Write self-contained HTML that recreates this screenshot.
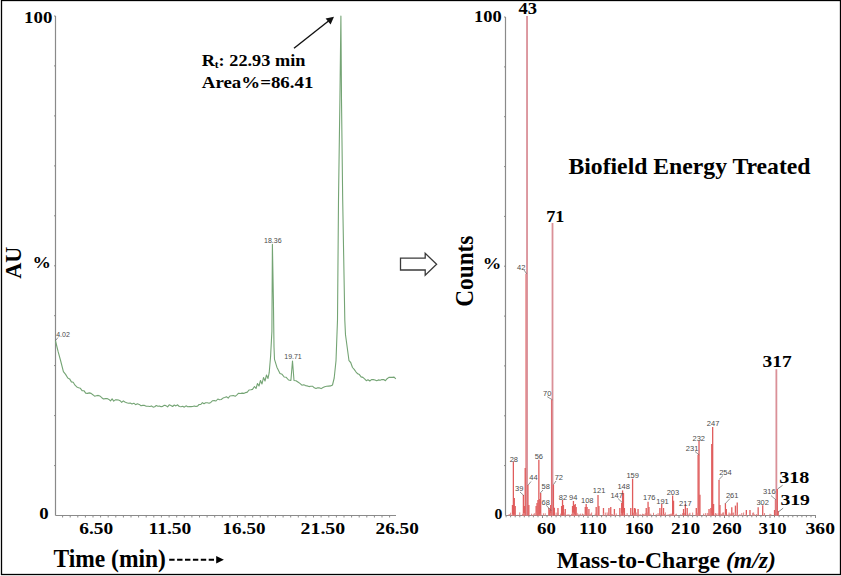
<!DOCTYPE html>
<html><head><meta charset="utf-8"><style>
html,body{margin:0;padding:0;background:#fff;width:841px;height:576px;overflow:hidden}
svg{display:block}
</style></head><body><svg width="841" height="576" viewBox="0 0 841 576"><rect x="1.5" y="0.5" width="839" height="574" fill="none" stroke="#000" stroke-width="1.3"/>
<line x1="55.5" y1="16" x2="55.5" y2="515.5" stroke="#8a8a8a" stroke-width="1.2"/>
<line x1="55.5" y1="515.5" x2="396" y2="515.5" stroke="#8a8a8a" stroke-width="1.2"/>
<line x1="54.0" y1="16" x2="55.5" y2="16" stroke="#8a8a8a" stroke-width="1"/>
<line x1="54.0" y1="465.6" x2="55.5" y2="465.6" stroke="#8a8a8a" stroke-width="1"/>
<line x1="54.0" y1="415.6" x2="55.5" y2="415.6" stroke="#8a8a8a" stroke-width="1"/>
<line x1="54.0" y1="365.6" x2="55.5" y2="365.6" stroke="#8a8a8a" stroke-width="1"/>
<line x1="54.0" y1="315.7" x2="55.5" y2="315.7" stroke="#8a8a8a" stroke-width="1"/>
<line x1="54.0" y1="265.8" x2="55.5" y2="265.8" stroke="#8a8a8a" stroke-width="1"/>
<line x1="54.0" y1="215.8" x2="55.5" y2="215.8" stroke="#8a8a8a" stroke-width="1"/>
<line x1="54.0" y1="165.9" x2="55.5" y2="165.9" stroke="#8a8a8a" stroke-width="1"/>
<line x1="54.0" y1="115.9" x2="55.5" y2="115.9" stroke="#8a8a8a" stroke-width="1"/>
<line x1="54.0" y1="65.9" x2="55.5" y2="65.9" stroke="#8a8a8a" stroke-width="1"/>
<line x1="62.6" y1="515.5" x2="62.6" y2="517.5" stroke="#8a8a8a" stroke-width="1"/>
<line x1="70.2" y1="515.5" x2="70.2" y2="517.5" stroke="#8a8a8a" stroke-width="1"/>
<line x1="77.8" y1="515.5" x2="77.8" y2="517.5" stroke="#8a8a8a" stroke-width="1"/>
<line x1="85.4" y1="515.5" x2="85.4" y2="517.5" stroke="#8a8a8a" stroke-width="1"/>
<line x1="93.0" y1="515.5" x2="93.0" y2="517.5" stroke="#8a8a8a" stroke-width="1"/>
<line x1="100.6" y1="515.5" x2="100.6" y2="517.5" stroke="#8a8a8a" stroke-width="1"/>
<line x1="108.2" y1="515.5" x2="108.2" y2="517.5" stroke="#8a8a8a" stroke-width="1"/>
<line x1="115.8" y1="515.5" x2="115.8" y2="517.5" stroke="#8a8a8a" stroke-width="1"/>
<line x1="123.4" y1="515.5" x2="123.4" y2="517.5" stroke="#8a8a8a" stroke-width="1"/>
<line x1="131.0" y1="515.5" x2="131.0" y2="517.5" stroke="#8a8a8a" stroke-width="1"/>
<line x1="138.6" y1="515.5" x2="138.6" y2="517.5" stroke="#8a8a8a" stroke-width="1"/>
<line x1="146.2" y1="515.5" x2="146.2" y2="517.5" stroke="#8a8a8a" stroke-width="1"/>
<line x1="153.8" y1="515.5" x2="153.8" y2="517.5" stroke="#8a8a8a" stroke-width="1"/>
<line x1="161.4" y1="515.5" x2="161.4" y2="517.5" stroke="#8a8a8a" stroke-width="1"/>
<line x1="169.1" y1="515.5" x2="169.1" y2="517.5" stroke="#8a8a8a" stroke-width="1"/>
<line x1="176.7" y1="515.5" x2="176.7" y2="517.5" stroke="#8a8a8a" stroke-width="1"/>
<line x1="184.3" y1="515.5" x2="184.3" y2="517.5" stroke="#8a8a8a" stroke-width="1"/>
<line x1="191.9" y1="515.5" x2="191.9" y2="517.5" stroke="#8a8a8a" stroke-width="1"/>
<line x1="199.5" y1="515.5" x2="199.5" y2="517.5" stroke="#8a8a8a" stroke-width="1"/>
<line x1="207.1" y1="515.5" x2="207.1" y2="517.5" stroke="#8a8a8a" stroke-width="1"/>
<line x1="214.7" y1="515.5" x2="214.7" y2="517.5" stroke="#8a8a8a" stroke-width="1"/>
<line x1="222.3" y1="515.5" x2="222.3" y2="517.5" stroke="#8a8a8a" stroke-width="1"/>
<line x1="229.9" y1="515.5" x2="229.9" y2="517.5" stroke="#8a8a8a" stroke-width="1"/>
<line x1="237.5" y1="515.5" x2="237.5" y2="517.5" stroke="#8a8a8a" stroke-width="1"/>
<line x1="245.1" y1="515.5" x2="245.1" y2="517.5" stroke="#8a8a8a" stroke-width="1"/>
<line x1="252.7" y1="515.5" x2="252.7" y2="517.5" stroke="#8a8a8a" stroke-width="1"/>
<line x1="260.3" y1="515.5" x2="260.3" y2="517.5" stroke="#8a8a8a" stroke-width="1"/>
<line x1="267.9" y1="515.5" x2="267.9" y2="517.5" stroke="#8a8a8a" stroke-width="1"/>
<line x1="275.5" y1="515.5" x2="275.5" y2="517.5" stroke="#8a8a8a" stroke-width="1"/>
<line x1="283.1" y1="515.5" x2="283.1" y2="517.5" stroke="#8a8a8a" stroke-width="1"/>
<line x1="290.7" y1="515.5" x2="290.7" y2="517.5" stroke="#8a8a8a" stroke-width="1"/>
<line x1="298.3" y1="515.5" x2="298.3" y2="517.5" stroke="#8a8a8a" stroke-width="1"/>
<line x1="305.9" y1="515.5" x2="305.9" y2="517.5" stroke="#8a8a8a" stroke-width="1"/>
<line x1="313.5" y1="515.5" x2="313.5" y2="517.5" stroke="#8a8a8a" stroke-width="1"/>
<line x1="321.1" y1="515.5" x2="321.1" y2="517.5" stroke="#8a8a8a" stroke-width="1"/>
<line x1="328.8" y1="515.5" x2="328.8" y2="517.5" stroke="#8a8a8a" stroke-width="1"/>
<line x1="336.4" y1="515.5" x2="336.4" y2="517.5" stroke="#8a8a8a" stroke-width="1"/>
<line x1="344.0" y1="515.5" x2="344.0" y2="517.5" stroke="#8a8a8a" stroke-width="1"/>
<line x1="351.6" y1="515.5" x2="351.6" y2="517.5" stroke="#8a8a8a" stroke-width="1"/>
<line x1="359.2" y1="515.5" x2="359.2" y2="517.5" stroke="#8a8a8a" stroke-width="1"/>
<line x1="366.8" y1="515.5" x2="366.8" y2="517.5" stroke="#8a8a8a" stroke-width="1"/>
<line x1="374.4" y1="515.5" x2="374.4" y2="517.5" stroke="#8a8a8a" stroke-width="1"/>
<line x1="382.0" y1="515.5" x2="382.0" y2="517.5" stroke="#8a8a8a" stroke-width="1"/>
<line x1="389.6" y1="515.5" x2="389.6" y2="517.5" stroke="#8a8a8a" stroke-width="1"/>
<line x1="169.2" y1="559.7" x2="214" y2="559.7" stroke="#000" stroke-width="2" stroke-dasharray="5.4,2.5"/>
<path d="M216.2 555.9 L223.9 559.7 L216.2 563.4 Z" fill="#000"/>
<path d="M55.4,340.5 L58.0,351.2 L60.7,361.0 L63.4,371.7 L65.6,374.4 L67.8,378.0 L69.6,378.9 L71.4,381.9 L73.2,382.3 L75.0,385.2 L76.8,386.9 L78.6,387.8 L80.4,388.3 L82.1,390.6 L83.9,390.7 L85.7,393.1 L87.5,393.4 L89.3,392.9 L91.1,393.4 L92.8,394.7 L94.6,396.2 L96.4,395.8 L98.2,395.4 L100.0,396.1 L101.8,397.7 L103.5,399.0 L105.3,398.6 L107.1,398.6 L108.9,399.4 L110.5,400.9 L112.1,398.8 L113.7,401.1 L115.3,399.9 L116.9,399.8 L118.5,400.0 L120.1,400.7 L121.7,402.3 L123.3,400.9 L124.9,402.0 L126.7,402.7 L128.5,403.2 L130.2,403.0 L132.0,403.9 L133.8,403.2 L135.6,404.7 L137.4,403.8 L139.2,404.4 L141.0,405.8 L142.8,405.4 L144.5,405.4 L146.3,406.3 L148.1,406.2 L149.9,406.5 L151.5,405.9 L153.1,407.1 L154.7,406.7 L156.3,405.5 L157.9,406.2 L159.5,406.0 L161.1,406.8 L162.7,406.4 L164.3,405.2 L165.9,405.6 L167.6,406.9 L169.2,404.8 L170.9,405.6 L172.6,406.5 L174.3,405.0 L175.9,405.9 L177.6,404.8 L179.3,406.5 L181.0,406.8 L182.7,406.3 L184.3,407.2 L186.0,405.8 L187.7,406.8 L189.3,406.6 L191.0,406.6 L192.7,406.5 L194.3,405.9 L195.9,406.4 L197.5,406.2 L199.1,404.5 L200.8,404.5 L202.4,402.6 L204.0,403.7 L205.6,402.7 L207.3,402.7 L209.1,403.2 L210.8,402.4 L212.6,400.7 L214.3,400.6 L216.0,401.0 L217.8,399.0 L219.5,399.8 L221.2,399.5 L223.0,398.1 L224.7,397.5 L226.5,396.8 L228.2,398.1 L229.9,396.0 L231.7,395.7 L233.4,395.6 L235.2,396.3 L236.9,394.8 L238.6,393.2 L240.4,393.5 L242.1,393.1 L243.8,393.4 L245.6,392.6 L247.3,392.1 L249.0,390.0 L250.8,389.8 L252.5,389.4 L254.5,386.5 L256.0,388.5 L257.5,383.5 L259.0,386.0 L260.5,380.5 L262.0,384.0 L263.5,377.5 L265.0,381.0 L266.5,375.0 L268.0,378.5 L269.2,372.7 L270.6,356.2 L271.9,331.2 L272.4,244.3 L273.4,300.0 L274.0,346.9 L274.5,359.4 L276.9,367.2 L280.0,373.4 L282.1,374.3 L284.2,377.0 L286.2,377.3 L288.6,380.0 L290.9,380.5 L292.5,361.0 L294.0,380.5 L296.0,380.8 L297.9,382.0 L299.9,383.4 L301.9,385.2 L303.7,384.8 L305.5,385.6 L307.3,385.9 L309.0,386.6 L310.8,386.3 L312.5,386.2 L314.3,387.8 L316.0,388.5 L317.7,387.8 L319.5,387.9 L321.2,388.6 L323.0,387.5 L324.7,386.7 L326.6,386.3 L328.6,386.1 L330.6,385.9 L332.5,385.0 L334.2,378.0 L336.0,360.7 L337.5,320.0 L338.5,200.0 L339.9,100.0 L340.9,16.0 L341.5,100.0 L342.7,200.0 L344.8,320.0 L345.5,334.7 L349.0,360.7 L350.7,362.5 L352.5,367.5 L354.2,369.4 L355.9,371.8 L357.7,373.8 L359.4,374.6 L361.1,376.9 L362.9,377.4 L364.6,378.9 L366.3,380.7 L368.0,379.7 L369.8,381.0 L371.5,379.6 L373.2,379.6 L375.0,380.0 L376.7,380.7 L378.4,379.9 L380.2,380.3 L381.9,379.6 L383.7,379.5 L385.4,380.7 L387.1,378.7 L388.9,377.4 L390.6,377.2 L392.3,377.4 L394.1,377.1 L395.8,378.9" fill="none" stroke="#74a474" stroke-width="1.1" stroke-linejoin="round"/>
<text x="56.2" y="337" style="font-family:'Liberation Sans',sans-serif;font-size:7px;fill:#4a4a4a">4.02</text>
<line x1="55.6" y1="340.5" x2="58" y2="337.5" stroke="#4a4a4a" stroke-width="0.6"/>
<text x="272.8" y="242.5" text-anchor="middle" style="font-family:'Liberation Sans',sans-serif;font-size:7px;fill:#4a4a4a">18.36</text>
<text x="293" y="359.4" text-anchor="middle" style="font-family:'Liberation Sans',sans-serif;font-size:7px;fill:#4a4a4a">19.71</text>
<line x1="294" y1="48.3" x2="328.5" y2="21" stroke="#111" stroke-width="1.4"/>
<path d="M334 16.8 L325.6 18.6 L330.6 24.4 Z" fill="#111"/>
<path d="M400.5 258.1 L425.2 258.1 L425.2 253.3 L436.6 264.3 L425.2 275.2 L425.2 270 L400.5 270 Z" fill="#fff" stroke="#3a3a3a" stroke-width="1.3" stroke-linejoin="miter"/>
<line x1="505.5" y1="17" x2="505.5" y2="515.5" stroke="#8a8a8a" stroke-width="1.2"/>
<line x1="505.5" y1="515.5" x2="816" y2="515.5" stroke="#8a8a8a" stroke-width="1.2"/>
<line x1="504.0" y1="17" x2="505.5" y2="17" stroke="#8a8a8a" stroke-width="1"/>
<line x1="504.0" y1="465.6" x2="505.5" y2="465.6" stroke="#8a8a8a" stroke-width="1"/>
<line x1="504.0" y1="415.8" x2="505.5" y2="415.8" stroke="#8a8a8a" stroke-width="1"/>
<line x1="504.0" y1="365.9" x2="505.5" y2="365.9" stroke="#8a8a8a" stroke-width="1"/>
<line x1="504.0" y1="316.1" x2="505.5" y2="316.1" stroke="#8a8a8a" stroke-width="1"/>
<line x1="504.0" y1="266.2" x2="505.5" y2="266.2" stroke="#8a8a8a" stroke-width="1"/>
<line x1="504.0" y1="216.4" x2="505.5" y2="216.4" stroke="#8a8a8a" stroke-width="1"/>
<line x1="504.0" y1="166.6" x2="505.5" y2="166.6" stroke="#8a8a8a" stroke-width="1"/>
<line x1="504.0" y1="116.7" x2="505.5" y2="116.7" stroke="#8a8a8a" stroke-width="1"/>
<line x1="504.0" y1="66.9" x2="505.5" y2="66.9" stroke="#8a8a8a" stroke-width="1"/>
<line x1="506.1" y1="515.5" x2="506.1" y2="517.3" stroke="#8a8a8a" stroke-width="1"/>
<line x1="510.6" y1="515.5" x2="510.6" y2="517.3" stroke="#8a8a8a" stroke-width="1"/>
<line x1="515.2" y1="515.5" x2="515.2" y2="517.3" stroke="#8a8a8a" stroke-width="1"/>
<line x1="519.8" y1="515.5" x2="519.8" y2="517.3" stroke="#8a8a8a" stroke-width="1"/>
<line x1="524.3" y1="515.5" x2="524.3" y2="517.3" stroke="#8a8a8a" stroke-width="1"/>
<line x1="528.9" y1="515.5" x2="528.9" y2="517.3" stroke="#8a8a8a" stroke-width="1"/>
<line x1="533.4" y1="515.5" x2="533.4" y2="517.3" stroke="#8a8a8a" stroke-width="1"/>
<line x1="538.0" y1="515.5" x2="538.0" y2="517.3" stroke="#8a8a8a" stroke-width="1"/>
<line x1="542.5" y1="515.5" x2="542.5" y2="518.0" stroke="#8a8a8a" stroke-width="1"/>
<line x1="547.0" y1="515.5" x2="547.0" y2="517.3" stroke="#8a8a8a" stroke-width="1"/>
<line x1="551.6" y1="515.5" x2="551.6" y2="517.3" stroke="#8a8a8a" stroke-width="1"/>
<line x1="556.1" y1="515.5" x2="556.1" y2="517.3" stroke="#8a8a8a" stroke-width="1"/>
<line x1="560.7" y1="515.5" x2="560.7" y2="517.3" stroke="#8a8a8a" stroke-width="1"/>
<line x1="565.2" y1="515.5" x2="565.2" y2="517.3" stroke="#8a8a8a" stroke-width="1"/>
<line x1="569.8" y1="515.5" x2="569.8" y2="517.3" stroke="#8a8a8a" stroke-width="1"/>
<line x1="574.4" y1="515.5" x2="574.4" y2="517.3" stroke="#8a8a8a" stroke-width="1"/>
<line x1="578.9" y1="515.5" x2="578.9" y2="517.3" stroke="#8a8a8a" stroke-width="1"/>
<line x1="583.5" y1="515.5" x2="583.5" y2="517.3" stroke="#8a8a8a" stroke-width="1"/>
<line x1="588.0" y1="515.5" x2="588.0" y2="518.0" stroke="#8a8a8a" stroke-width="1"/>
<line x1="592.5" y1="515.5" x2="592.5" y2="517.3" stroke="#8a8a8a" stroke-width="1"/>
<line x1="597.1" y1="515.5" x2="597.1" y2="517.3" stroke="#8a8a8a" stroke-width="1"/>
<line x1="601.6" y1="515.5" x2="601.6" y2="517.3" stroke="#8a8a8a" stroke-width="1"/>
<line x1="606.2" y1="515.5" x2="606.2" y2="517.3" stroke="#8a8a8a" stroke-width="1"/>
<line x1="610.8" y1="515.5" x2="610.8" y2="517.3" stroke="#8a8a8a" stroke-width="1"/>
<line x1="615.3" y1="515.5" x2="615.3" y2="517.3" stroke="#8a8a8a" stroke-width="1"/>
<line x1="619.9" y1="515.5" x2="619.9" y2="517.3" stroke="#8a8a8a" stroke-width="1"/>
<line x1="624.4" y1="515.5" x2="624.4" y2="517.3" stroke="#8a8a8a" stroke-width="1"/>
<line x1="629.0" y1="515.5" x2="629.0" y2="517.3" stroke="#8a8a8a" stroke-width="1"/>
<line x1="633.5" y1="515.5" x2="633.5" y2="518.0" stroke="#8a8a8a" stroke-width="1"/>
<line x1="638.0" y1="515.5" x2="638.0" y2="517.3" stroke="#8a8a8a" stroke-width="1"/>
<line x1="642.6" y1="515.5" x2="642.6" y2="517.3" stroke="#8a8a8a" stroke-width="1"/>
<line x1="647.1" y1="515.5" x2="647.1" y2="517.3" stroke="#8a8a8a" stroke-width="1"/>
<line x1="651.7" y1="515.5" x2="651.7" y2="517.3" stroke="#8a8a8a" stroke-width="1"/>
<line x1="656.2" y1="515.5" x2="656.2" y2="517.3" stroke="#8a8a8a" stroke-width="1"/>
<line x1="660.8" y1="515.5" x2="660.8" y2="517.3" stroke="#8a8a8a" stroke-width="1"/>
<line x1="665.4" y1="515.5" x2="665.4" y2="517.3" stroke="#8a8a8a" stroke-width="1"/>
<line x1="669.9" y1="515.5" x2="669.9" y2="517.3" stroke="#8a8a8a" stroke-width="1"/>
<line x1="674.5" y1="515.5" x2="674.5" y2="517.3" stroke="#8a8a8a" stroke-width="1"/>
<line x1="679.0" y1="515.5" x2="679.0" y2="518.0" stroke="#8a8a8a" stroke-width="1"/>
<line x1="683.5" y1="515.5" x2="683.5" y2="517.3" stroke="#8a8a8a" stroke-width="1"/>
<line x1="688.1" y1="515.5" x2="688.1" y2="517.3" stroke="#8a8a8a" stroke-width="1"/>
<line x1="692.6" y1="515.5" x2="692.6" y2="517.3" stroke="#8a8a8a" stroke-width="1"/>
<line x1="697.2" y1="515.5" x2="697.2" y2="517.3" stroke="#8a8a8a" stroke-width="1"/>
<line x1="701.8" y1="515.5" x2="701.8" y2="517.3" stroke="#8a8a8a" stroke-width="1"/>
<line x1="706.3" y1="515.5" x2="706.3" y2="517.3" stroke="#8a8a8a" stroke-width="1"/>
<line x1="710.9" y1="515.5" x2="710.9" y2="517.3" stroke="#8a8a8a" stroke-width="1"/>
<line x1="715.4" y1="515.5" x2="715.4" y2="517.3" stroke="#8a8a8a" stroke-width="1"/>
<line x1="720.0" y1="515.5" x2="720.0" y2="517.3" stroke="#8a8a8a" stroke-width="1"/>
<line x1="724.5" y1="515.5" x2="724.5" y2="518.0" stroke="#8a8a8a" stroke-width="1"/>
<line x1="729.0" y1="515.5" x2="729.0" y2="517.3" stroke="#8a8a8a" stroke-width="1"/>
<line x1="733.6" y1="515.5" x2="733.6" y2="517.3" stroke="#8a8a8a" stroke-width="1"/>
<line x1="738.1" y1="515.5" x2="738.1" y2="517.3" stroke="#8a8a8a" stroke-width="1"/>
<line x1="742.7" y1="515.5" x2="742.7" y2="517.3" stroke="#8a8a8a" stroke-width="1"/>
<line x1="747.2" y1="515.5" x2="747.2" y2="517.3" stroke="#8a8a8a" stroke-width="1"/>
<line x1="751.8" y1="515.5" x2="751.8" y2="517.3" stroke="#8a8a8a" stroke-width="1"/>
<line x1="756.4" y1="515.5" x2="756.4" y2="517.3" stroke="#8a8a8a" stroke-width="1"/>
<line x1="760.9" y1="515.5" x2="760.9" y2="517.3" stroke="#8a8a8a" stroke-width="1"/>
<line x1="765.5" y1="515.5" x2="765.5" y2="517.3" stroke="#8a8a8a" stroke-width="1"/>
<line x1="770.0" y1="515.5" x2="770.0" y2="518.0" stroke="#8a8a8a" stroke-width="1"/>
<line x1="774.5" y1="515.5" x2="774.5" y2="517.3" stroke="#8a8a8a" stroke-width="1"/>
<line x1="779.1" y1="515.5" x2="779.1" y2="517.3" stroke="#8a8a8a" stroke-width="1"/>
<line x1="783.6" y1="515.5" x2="783.6" y2="517.3" stroke="#8a8a8a" stroke-width="1"/>
<line x1="788.2" y1="515.5" x2="788.2" y2="517.3" stroke="#8a8a8a" stroke-width="1"/>
<line x1="792.8" y1="515.5" x2="792.8" y2="517.3" stroke="#8a8a8a" stroke-width="1"/>
<line x1="797.3" y1="515.5" x2="797.3" y2="517.3" stroke="#8a8a8a" stroke-width="1"/>
<line x1="801.9" y1="515.5" x2="801.9" y2="517.3" stroke="#8a8a8a" stroke-width="1"/>
<line x1="806.4" y1="515.5" x2="806.4" y2="517.3" stroke="#8a8a8a" stroke-width="1"/>
<line x1="811.0" y1="515.5" x2="811.0" y2="517.3" stroke="#8a8a8a" stroke-width="1"/>
<line x1="815.5" y1="515.5" x2="815.5" y2="518.0" stroke="#8a8a8a" stroke-width="1"/>
<line x1="512.47" y1="505" x2="512.47" y2="515.5" stroke="#e05c5c" stroke-width="1.3"/>
<line x1="513.38" y1="461.5" x2="513.38" y2="515.5" stroke="#e05c5c" stroke-width="1.3"/>
<line x1="514.29" y1="498" x2="514.29" y2="515.5" stroke="#e05c5c" stroke-width="1.3"/>
<line x1="515.20" y1="506" x2="515.20" y2="515.5" stroke="#e05c5c" stroke-width="1.3"/>
<line x1="523.39" y1="495" x2="523.39" y2="515.5" stroke="#e05c5c" stroke-width="1.3"/>
<line x1="524.30" y1="506" x2="524.30" y2="515.5" stroke="#e05c5c" stroke-width="1.3"/>
<line x1="525.21" y1="468" x2="525.21" y2="515.5" stroke="#e05c5c" stroke-width="1.3"/>
<line x1="526.12" y1="273.8" x2="526.12" y2="515.5" stroke="#e05c5c" stroke-width="1.3"/>
<line x1="527.03" y1="16" x2="527.03" y2="515.5" stroke="#da9098" stroke-width="1.8"/>
<line x1="527.94" y1="485" x2="527.94" y2="515.5" stroke="#e05c5c" stroke-width="1.3"/>
<line x1="528.85" y1="505" x2="528.85" y2="515.5" stroke="#e05c5c" stroke-width="1.3"/>
<line x1="536.13" y1="506" x2="536.13" y2="515.5" stroke="#e05c5c" stroke-width="1.3"/>
<line x1="537.04" y1="503" x2="537.04" y2="515.5" stroke="#e05c5c" stroke-width="1.3"/>
<line x1="537.95" y1="500" x2="537.95" y2="515.5" stroke="#e05c5c" stroke-width="1.3"/>
<line x1="538.86" y1="459.7" x2="538.86" y2="515.5" stroke="#e05c5c" stroke-width="1.3"/>
<line x1="539.77" y1="499" x2="539.77" y2="515.5" stroke="#e05c5c" stroke-width="1.3"/>
<line x1="540.68" y1="493" x2="540.68" y2="515.5" stroke="#e05c5c" stroke-width="1.3"/>
<line x1="548.87" y1="508" x2="548.87" y2="515.5" stroke="#e05c5c" stroke-width="1.3"/>
<line x1="549.78" y1="510" x2="549.78" y2="515.5" stroke="#e05c5c" stroke-width="1.3"/>
<line x1="550.69" y1="505" x2="550.69" y2="515.5" stroke="#e05c5c" stroke-width="1.3"/>
<line x1="551.60" y1="399.8" x2="551.60" y2="515.5" stroke="#e05c5c" stroke-width="1.3"/>
<line x1="552.51" y1="223" x2="552.51" y2="515.5" stroke="#da9098" stroke-width="1.8"/>
<line x1="553.42" y1="484.6" x2="553.42" y2="515.5" stroke="#e05c5c" stroke-width="1.3"/>
<line x1="554.33" y1="507.7" x2="554.33" y2="515.5" stroke="#e05c5c" stroke-width="1.3"/>
<line x1="557.97" y1="508" x2="557.97" y2="515.5" stroke="#e05c5c" stroke-width="1.3"/>
<line x1="561.61" y1="506" x2="561.61" y2="515.5" stroke="#e05c5c" stroke-width="1.3"/>
<line x1="562.52" y1="500" x2="562.52" y2="515.5" stroke="#e05c5c" stroke-width="1.3"/>
<line x1="563.43" y1="505" x2="563.43" y2="515.5" stroke="#e05c5c" stroke-width="1.3"/>
<line x1="565.25" y1="509" x2="565.25" y2="515.5" stroke="#e05c5c" stroke-width="1.3"/>
<line x1="572.53" y1="506" x2="572.53" y2="515.5" stroke="#e05c5c" stroke-width="1.3"/>
<line x1="573.44" y1="501" x2="573.44" y2="515.5" stroke="#e05c5c" stroke-width="1.3"/>
<line x1="574.35" y1="505" x2="574.35" y2="515.5" stroke="#e05c5c" stroke-width="1.3"/>
<line x1="575.26" y1="504" x2="575.26" y2="515.5" stroke="#e05c5c" stroke-width="1.3"/>
<line x1="576.17" y1="507" x2="576.17" y2="515.5" stroke="#e05c5c" stroke-width="1.3"/>
<line x1="585.27" y1="507" x2="585.27" y2="515.5" stroke="#e05c5c" stroke-width="1.3"/>
<line x1="586.18" y1="504" x2="586.18" y2="515.5" stroke="#e05c5c" stroke-width="1.3"/>
<line x1="587.09" y1="507" x2="587.09" y2="515.5" stroke="#e05c5c" stroke-width="1.3"/>
<line x1="588.91" y1="509" x2="588.91" y2="515.5" stroke="#e05c5c" stroke-width="1.3"/>
<line x1="596.19" y1="507" x2="596.19" y2="515.5" stroke="#e05c5c" stroke-width="1.3"/>
<line x1="598.01" y1="495" x2="598.01" y2="515.5" stroke="#e05c5c" stroke-width="1.3"/>
<line x1="598.92" y1="506" x2="598.92" y2="515.5" stroke="#e05c5c" stroke-width="1.3"/>
<line x1="603.47" y1="508" x2="603.47" y2="515.5" stroke="#e05c5c" stroke-width="1.3"/>
<line x1="608.93" y1="508" x2="608.93" y2="515.5" stroke="#e05c5c" stroke-width="1.3"/>
<line x1="610.75" y1="507" x2="610.75" y2="515.5" stroke="#e05c5c" stroke-width="1.3"/>
<line x1="614.39" y1="509" x2="614.39" y2="515.5" stroke="#e05c5c" stroke-width="1.3"/>
<line x1="619.85" y1="508" x2="619.85" y2="515.5" stroke="#e05c5c" stroke-width="1.3"/>
<line x1="621.67" y1="503" x2="621.67" y2="515.5" stroke="#e05c5c" stroke-width="1.3"/>
<line x1="622.58" y1="490.4" x2="622.58" y2="515.5" stroke="#e05c5c" stroke-width="1.3"/>
<line x1="623.49" y1="493" x2="623.49" y2="515.5" stroke="#e05c5c" stroke-width="1.3"/>
<line x1="624.40" y1="508" x2="624.40" y2="515.5" stroke="#e05c5c" stroke-width="1.3"/>
<line x1="630.77" y1="508" x2="630.77" y2="515.5" stroke="#e05c5c" stroke-width="1.3"/>
<line x1="632.59" y1="478.7" x2="632.59" y2="515.5" stroke="#e05c5c" stroke-width="1.3"/>
<line x1="634.41" y1="508" x2="634.41" y2="515.5" stroke="#e05c5c" stroke-width="1.3"/>
<line x1="635.32" y1="508.6" x2="635.32" y2="515.5" stroke="#e05c5c" stroke-width="1.3"/>
<line x1="638.05" y1="509" x2="638.05" y2="515.5" stroke="#e05c5c" stroke-width="1.3"/>
<line x1="646.24" y1="508" x2="646.24" y2="515.5" stroke="#e05c5c" stroke-width="1.3"/>
<line x1="648.06" y1="501.7" x2="648.06" y2="515.5" stroke="#e05c5c" stroke-width="1.3"/>
<line x1="648.97" y1="507" x2="648.97" y2="515.5" stroke="#e05c5c" stroke-width="1.3"/>
<line x1="659.89" y1="508" x2="659.89" y2="515.5" stroke="#e05c5c" stroke-width="1.3"/>
<line x1="661.71" y1="504" x2="661.71" y2="515.5" stroke="#e05c5c" stroke-width="1.3"/>
<line x1="663.53" y1="508" x2="663.53" y2="515.5" stroke="#e05c5c" stroke-width="1.3"/>
<line x1="672.63" y1="495.5" x2="672.63" y2="515.5" stroke="#e05c5c" stroke-width="1.3"/>
<line x1="673.54" y1="500.7" x2="673.54" y2="515.5" stroke="#e05c5c" stroke-width="1.3"/>
<line x1="683.55" y1="509" x2="683.55" y2="515.5" stroke="#e05c5c" stroke-width="1.3"/>
<line x1="685.37" y1="504" x2="685.37" y2="515.5" stroke="#e05c5c" stroke-width="1.3"/>
<line x1="687.19" y1="508" x2="687.19" y2="515.5" stroke="#e05c5c" stroke-width="1.3"/>
<line x1="696.29" y1="508" x2="696.29" y2="515.5" stroke="#e05c5c" stroke-width="1.3"/>
<line x1="698.11" y1="454.7" x2="698.11" y2="515.5" stroke="#e05c5c" stroke-width="1.3"/>
<line x1="699.02" y1="440.8" x2="699.02" y2="515.5" stroke="#e05c5c" stroke-width="1.3"/>
<line x1="699.93" y1="494.7" x2="699.93" y2="515.5" stroke="#e05c5c" stroke-width="1.3"/>
<line x1="709.03" y1="509" x2="709.03" y2="515.5" stroke="#e05c5c" stroke-width="1.3"/>
<line x1="710.85" y1="508" x2="710.85" y2="515.5" stroke="#e05c5c" stroke-width="1.3"/>
<line x1="711.76" y1="444" x2="711.76" y2="515.5" stroke="#e05c5c" stroke-width="1.3"/>
<line x1="712.67" y1="427" x2="712.67" y2="515.5" stroke="#e05c5c" stroke-width="1.3"/>
<line x1="713.58" y1="504" x2="713.58" y2="515.5" stroke="#e05c5c" stroke-width="1.3"/>
<line x1="719.04" y1="479.9" x2="719.04" y2="515.5" stroke="#e05c5c" stroke-width="1.3"/>
<line x1="719.95" y1="505" x2="719.95" y2="515.5" stroke="#e05c5c" stroke-width="1.3"/>
<line x1="725.41" y1="503.3" x2="725.41" y2="515.5" stroke="#e05c5c" stroke-width="1.3"/>
<line x1="726.32" y1="509" x2="726.32" y2="515.5" stroke="#e05c5c" stroke-width="1.3"/>
<line x1="731.78" y1="507.3" x2="731.78" y2="515.5" stroke="#e05c5c" stroke-width="1.3"/>
<line x1="735.42" y1="505.6" x2="735.42" y2="515.5" stroke="#e05c5c" stroke-width="1.3"/>
<line x1="737.24" y1="502.6" x2="737.24" y2="515.5" stroke="#e05c5c" stroke-width="1.3"/>
<line x1="746.34" y1="510" x2="746.34" y2="515.5" stroke="#e05c5c" stroke-width="1.3"/>
<line x1="749.98" y1="510" x2="749.98" y2="515.5" stroke="#e05c5c" stroke-width="1.3"/>
<line x1="758.17" y1="507.3" x2="758.17" y2="515.5" stroke="#e05c5c" stroke-width="1.3"/>
<line x1="762.72" y1="505.2" x2="762.72" y2="515.5" stroke="#e05c5c" stroke-width="1.3"/>
<line x1="774.55" y1="510" x2="774.55" y2="515.5" stroke="#e05c5c" stroke-width="1.3"/>
<line x1="775.46" y1="499.8" x2="775.46" y2="515.5" stroke="#e05c5c" stroke-width="1.3"/>
<line x1="776.37" y1="369.2" x2="776.37" y2="515.5" stroke="#da9098" stroke-width="1.8"/>
<line x1="777.28" y1="489" x2="777.28" y2="515.5" stroke="#e05c5c" stroke-width="1.3"/>
<line x1="778.19" y1="511" x2="778.19" y2="515.5" stroke="#e05c5c" stroke-width="1.3"/>
<line x1="507.01" y1="515.5" x2="507.01" y2="515.5" stroke="#e48080" stroke-width="1"/>
<line x1="507.92" y1="515.5" x2="507.92" y2="515.5" stroke="#e48080" stroke-width="1"/>
<line x1="508.83" y1="514.5" x2="508.83" y2="515.5" stroke="#e48080" stroke-width="1"/>
<line x1="509.74" y1="514.1" x2="509.74" y2="515.5" stroke="#e48080" stroke-width="1"/>
<line x1="510.65" y1="512.7" x2="510.65" y2="515.5" stroke="#e48080" stroke-width="1"/>
<line x1="511.56" y1="515.5" x2="511.56" y2="515.5" stroke="#e48080" stroke-width="1"/>
<line x1="512.47" y1="513.8" x2="512.47" y2="515.5" stroke="#e48080" stroke-width="1"/>
<line x1="513.38" y1="514.9" x2="513.38" y2="515.5" stroke="#e48080" stroke-width="1"/>
<line x1="514.29" y1="514.4" x2="514.29" y2="515.5" stroke="#e48080" stroke-width="1"/>
<line x1="515.20" y1="515.5" x2="515.20" y2="515.5" stroke="#e48080" stroke-width="1"/>
<line x1="516.11" y1="515.1" x2="516.11" y2="515.5" stroke="#e48080" stroke-width="1"/>
<line x1="517.02" y1="515.5" x2="517.02" y2="515.5" stroke="#e48080" stroke-width="1"/>
<line x1="517.93" y1="514.8" x2="517.93" y2="515.5" stroke="#e48080" stroke-width="1"/>
<line x1="518.84" y1="515.1" x2="518.84" y2="515.5" stroke="#e48080" stroke-width="1"/>
<line x1="519.75" y1="512.4" x2="519.75" y2="515.5" stroke="#e48080" stroke-width="1"/>
<line x1="520.66" y1="515.5" x2="520.66" y2="515.5" stroke="#e48080" stroke-width="1"/>
<line x1="521.57" y1="515.5" x2="521.57" y2="515.5" stroke="#e48080" stroke-width="1"/>
<line x1="522.48" y1="514.1" x2="522.48" y2="515.5" stroke="#e48080" stroke-width="1"/>
<line x1="523.39" y1="513.0" x2="523.39" y2="515.5" stroke="#e48080" stroke-width="1"/>
<line x1="524.30" y1="512.9" x2="524.30" y2="515.5" stroke="#e48080" stroke-width="1"/>
<line x1="525.21" y1="514.6" x2="525.21" y2="515.5" stroke="#e48080" stroke-width="1"/>
<line x1="526.12" y1="515.5" x2="526.12" y2="515.5" stroke="#e48080" stroke-width="1"/>
<line x1="527.03" y1="515.5" x2="527.03" y2="515.5" stroke="#e48080" stroke-width="1"/>
<line x1="527.94" y1="515.5" x2="527.94" y2="515.5" stroke="#e48080" stroke-width="1"/>
<line x1="528.85" y1="515.5" x2="528.85" y2="515.5" stroke="#e48080" stroke-width="1"/>
<line x1="529.76" y1="515.5" x2="529.76" y2="515.5" stroke="#e48080" stroke-width="1"/>
<line x1="530.67" y1="515.5" x2="530.67" y2="515.5" stroke="#e48080" stroke-width="1"/>
<line x1="531.58" y1="513.7" x2="531.58" y2="515.5" stroke="#e48080" stroke-width="1"/>
<line x1="532.49" y1="515.1" x2="532.49" y2="515.5" stroke="#e48080" stroke-width="1"/>
<line x1="533.40" y1="514.4" x2="533.40" y2="515.5" stroke="#e48080" stroke-width="1"/>
<line x1="534.31" y1="513.2" x2="534.31" y2="515.5" stroke="#e48080" stroke-width="1"/>
<line x1="535.22" y1="515.5" x2="535.22" y2="515.5" stroke="#e48080" stroke-width="1"/>
<line x1="536.13" y1="512.5" x2="536.13" y2="515.5" stroke="#e48080" stroke-width="1"/>
<line x1="537.04" y1="515.5" x2="537.04" y2="515.5" stroke="#e48080" stroke-width="1"/>
<line x1="537.95" y1="515.5" x2="537.95" y2="515.5" stroke="#e48080" stroke-width="1"/>
<line x1="538.86" y1="514.6" x2="538.86" y2="515.5" stroke="#e48080" stroke-width="1"/>
<line x1="539.77" y1="514.6" x2="539.77" y2="515.5" stroke="#e48080" stroke-width="1"/>
<line x1="540.68" y1="513.4" x2="540.68" y2="515.5" stroke="#e48080" stroke-width="1"/>
<line x1="541.59" y1="515.5" x2="541.59" y2="515.5" stroke="#e48080" stroke-width="1"/>
<line x1="542.50" y1="515.5" x2="542.50" y2="515.5" stroke="#e48080" stroke-width="1"/>
<line x1="543.41" y1="513.3" x2="543.41" y2="515.5" stroke="#e48080" stroke-width="1"/>
<line x1="544.32" y1="515.5" x2="544.32" y2="515.5" stroke="#e48080" stroke-width="1"/>
<line x1="545.23" y1="513.3" x2="545.23" y2="515.5" stroke="#e48080" stroke-width="1"/>
<line x1="546.14" y1="515.5" x2="546.14" y2="515.5" stroke="#e48080" stroke-width="1"/>
<line x1="547.05" y1="515.5" x2="547.05" y2="515.5" stroke="#e48080" stroke-width="1"/>
<line x1="547.96" y1="515.5" x2="547.96" y2="515.5" stroke="#e48080" stroke-width="1"/>
<line x1="548.87" y1="514.7" x2="548.87" y2="515.5" stroke="#e48080" stroke-width="1"/>
<line x1="549.78" y1="515.5" x2="549.78" y2="515.5" stroke="#e48080" stroke-width="1"/>
<line x1="550.69" y1="512.9" x2="550.69" y2="515.5" stroke="#e48080" stroke-width="1"/>
<line x1="551.60" y1="515.5" x2="551.60" y2="515.5" stroke="#e48080" stroke-width="1"/>
<line x1="552.51" y1="514.0" x2="552.51" y2="515.5" stroke="#e48080" stroke-width="1"/>
<line x1="553.42" y1="515.5" x2="553.42" y2="515.5" stroke="#e48080" stroke-width="1"/>
<line x1="554.33" y1="515.5" x2="554.33" y2="515.5" stroke="#e48080" stroke-width="1"/>
<line x1="555.24" y1="514.8" x2="555.24" y2="515.5" stroke="#e48080" stroke-width="1"/>
<line x1="556.15" y1="512.6" x2="556.15" y2="515.5" stroke="#e48080" stroke-width="1"/>
<line x1="557.06" y1="515.5" x2="557.06" y2="515.5" stroke="#e48080" stroke-width="1"/>
<line x1="557.97" y1="512.8" x2="557.97" y2="515.5" stroke="#e48080" stroke-width="1"/>
<line x1="558.88" y1="515.5" x2="558.88" y2="515.5" stroke="#e48080" stroke-width="1"/>
<line x1="559.79" y1="515.5" x2="559.79" y2="515.5" stroke="#e48080" stroke-width="1"/>
<line x1="560.70" y1="513.6" x2="560.70" y2="515.5" stroke="#e48080" stroke-width="1"/>
<line x1="561.61" y1="515.2" x2="561.61" y2="515.5" stroke="#e48080" stroke-width="1"/>
<line x1="562.52" y1="515.5" x2="562.52" y2="515.5" stroke="#e48080" stroke-width="1"/>
<line x1="563.43" y1="515.5" x2="563.43" y2="515.5" stroke="#e48080" stroke-width="1"/>
<line x1="564.34" y1="512.5" x2="564.34" y2="515.5" stroke="#e48080" stroke-width="1"/>
<line x1="565.25" y1="512.7" x2="565.25" y2="515.5" stroke="#e48080" stroke-width="1"/>
<line x1="566.16" y1="515.5" x2="566.16" y2="515.5" stroke="#e48080" stroke-width="1"/>
<line x1="567.07" y1="514.5" x2="567.07" y2="515.5" stroke="#e48080" stroke-width="1"/>
<line x1="567.98" y1="514.5" x2="567.98" y2="515.5" stroke="#e48080" stroke-width="1"/>
<line x1="568.89" y1="514.4" x2="568.89" y2="515.5" stroke="#e48080" stroke-width="1"/>
<line x1="569.80" y1="514.8" x2="569.80" y2="515.5" stroke="#e48080" stroke-width="1"/>
<line x1="570.71" y1="515.5" x2="570.71" y2="515.5" stroke="#e48080" stroke-width="1"/>
<line x1="571.62" y1="513.9" x2="571.62" y2="515.5" stroke="#e48080" stroke-width="1"/>
<line x1="572.53" y1="512.6" x2="572.53" y2="515.5" stroke="#e48080" stroke-width="1"/>
<line x1="573.44" y1="512.5" x2="573.44" y2="515.5" stroke="#e48080" stroke-width="1"/>
<line x1="574.35" y1="513.7" x2="574.35" y2="515.5" stroke="#e48080" stroke-width="1"/>
<line x1="575.26" y1="515.1" x2="575.26" y2="515.5" stroke="#e48080" stroke-width="1"/>
<line x1="576.17" y1="514.7" x2="576.17" y2="515.5" stroke="#e48080" stroke-width="1"/>
<line x1="577.08" y1="512.9" x2="577.08" y2="515.5" stroke="#e48080" stroke-width="1"/>
<line x1="577.99" y1="513.8" x2="577.99" y2="515.5" stroke="#e48080" stroke-width="1"/>
<line x1="578.90" y1="515.5" x2="578.90" y2="515.5" stroke="#e48080" stroke-width="1"/>
<line x1="579.81" y1="514.3" x2="579.81" y2="515.5" stroke="#e48080" stroke-width="1"/>
<line x1="580.72" y1="513.6" x2="580.72" y2="515.5" stroke="#e48080" stroke-width="1"/>
<line x1="581.63" y1="515.5" x2="581.63" y2="515.5" stroke="#e48080" stroke-width="1"/>
<line x1="582.54" y1="513.6" x2="582.54" y2="515.5" stroke="#e48080" stroke-width="1"/>
<line x1="583.45" y1="514.4" x2="583.45" y2="515.5" stroke="#e48080" stroke-width="1"/>
<line x1="584.36" y1="515.5" x2="584.36" y2="515.5" stroke="#e48080" stroke-width="1"/>
<line x1="585.27" y1="513.6" x2="585.27" y2="515.5" stroke="#e48080" stroke-width="1"/>
<line x1="586.18" y1="515.5" x2="586.18" y2="515.5" stroke="#e48080" stroke-width="1"/>
<line x1="587.09" y1="515.5" x2="587.09" y2="515.5" stroke="#e48080" stroke-width="1"/>
<line x1="588.00" y1="513.4" x2="588.00" y2="515.5" stroke="#e48080" stroke-width="1"/>
<line x1="588.91" y1="513.7" x2="588.91" y2="515.5" stroke="#e48080" stroke-width="1"/>
<line x1="589.82" y1="515.5" x2="589.82" y2="515.5" stroke="#e48080" stroke-width="1"/>
<line x1="590.73" y1="513.7" x2="590.73" y2="515.5" stroke="#e48080" stroke-width="1"/>
<line x1="591.64" y1="512.5" x2="591.64" y2="515.5" stroke="#e48080" stroke-width="1"/>
<line x1="592.55" y1="515.5" x2="592.55" y2="515.5" stroke="#e48080" stroke-width="1"/>
<line x1="593.46" y1="515.5" x2="593.46" y2="515.5" stroke="#e48080" stroke-width="1"/>
<line x1="594.37" y1="515.5" x2="594.37" y2="515.5" stroke="#e48080" stroke-width="1"/>
<line x1="595.28" y1="513.6" x2="595.28" y2="515.5" stroke="#e48080" stroke-width="1"/>
<line x1="596.19" y1="515.5" x2="596.19" y2="515.5" stroke="#e48080" stroke-width="1"/>
<line x1="597.10" y1="515.5" x2="597.10" y2="515.5" stroke="#e48080" stroke-width="1"/>
<line x1="598.01" y1="514.8" x2="598.01" y2="515.5" stroke="#e48080" stroke-width="1"/>
<line x1="598.92" y1="515.0" x2="598.92" y2="515.5" stroke="#e48080" stroke-width="1"/>
<line x1="599.83" y1="515.0" x2="599.83" y2="515.5" stroke="#e48080" stroke-width="1"/>
<line x1="600.74" y1="515.5" x2="600.74" y2="515.5" stroke="#e48080" stroke-width="1"/>
<line x1="601.65" y1="515.5" x2="601.65" y2="515.5" stroke="#e48080" stroke-width="1"/>
<line x1="602.56" y1="515.5" x2="602.56" y2="515.5" stroke="#e48080" stroke-width="1"/>
<line x1="603.47" y1="513.1" x2="603.47" y2="515.5" stroke="#e48080" stroke-width="1"/>
<line x1="604.38" y1="515.5" x2="604.38" y2="515.5" stroke="#e48080" stroke-width="1"/>
<line x1="605.29" y1="512.6" x2="605.29" y2="515.5" stroke="#e48080" stroke-width="1"/>
<line x1="606.20" y1="515.5" x2="606.20" y2="515.5" stroke="#e48080" stroke-width="1"/>
<line x1="607.11" y1="512.4" x2="607.11" y2="515.5" stroke="#e48080" stroke-width="1"/>
<line x1="608.02" y1="513.8" x2="608.02" y2="515.5" stroke="#e48080" stroke-width="1"/>
<line x1="608.93" y1="515.5" x2="608.93" y2="515.5" stroke="#e48080" stroke-width="1"/>
<line x1="609.84" y1="515.5" x2="609.84" y2="515.5" stroke="#e48080" stroke-width="1"/>
<line x1="610.75" y1="513.9" x2="610.75" y2="515.5" stroke="#e48080" stroke-width="1"/>
<line x1="611.66" y1="514.2" x2="611.66" y2="515.5" stroke="#e48080" stroke-width="1"/>
<line x1="612.57" y1="514.3" x2="612.57" y2="515.5" stroke="#e48080" stroke-width="1"/>
<line x1="613.48" y1="515.5" x2="613.48" y2="515.5" stroke="#e48080" stroke-width="1"/>
<line x1="614.39" y1="513.6" x2="614.39" y2="515.5" stroke="#e48080" stroke-width="1"/>
<line x1="615.30" y1="515.1" x2="615.30" y2="515.5" stroke="#e48080" stroke-width="1"/>
<line x1="616.21" y1="513.4" x2="616.21" y2="515.5" stroke="#e48080" stroke-width="1"/>
<line x1="617.12" y1="515.0" x2="617.12" y2="515.5" stroke="#e48080" stroke-width="1"/>
<line x1="618.03" y1="515.5" x2="618.03" y2="515.5" stroke="#e48080" stroke-width="1"/>
<line x1="618.94" y1="515.5" x2="618.94" y2="515.5" stroke="#e48080" stroke-width="1"/>
<line x1="619.85" y1="515.5" x2="619.85" y2="515.5" stroke="#e48080" stroke-width="1"/>
<line x1="620.76" y1="514.4" x2="620.76" y2="515.5" stroke="#e48080" stroke-width="1"/>
<line x1="621.67" y1="512.9" x2="621.67" y2="515.5" stroke="#e48080" stroke-width="1"/>
<line x1="622.58" y1="514.8" x2="622.58" y2="515.5" stroke="#e48080" stroke-width="1"/>
<line x1="623.49" y1="512.6" x2="623.49" y2="515.5" stroke="#e48080" stroke-width="1"/>
<line x1="624.40" y1="515.5" x2="624.40" y2="515.5" stroke="#e48080" stroke-width="1"/>
<line x1="625.31" y1="514.8" x2="625.31" y2="515.5" stroke="#e48080" stroke-width="1"/>
<line x1="626.22" y1="515.5" x2="626.22" y2="515.5" stroke="#e48080" stroke-width="1"/>
<line x1="627.13" y1="513.2" x2="627.13" y2="515.5" stroke="#e48080" stroke-width="1"/>
<line x1="628.04" y1="515.0" x2="628.04" y2="515.5" stroke="#e48080" stroke-width="1"/>
<line x1="628.95" y1="515.5" x2="628.95" y2="515.5" stroke="#e48080" stroke-width="1"/>
<line x1="629.86" y1="515.0" x2="629.86" y2="515.5" stroke="#e48080" stroke-width="1"/>
<line x1="630.77" y1="515.5" x2="630.77" y2="515.5" stroke="#e48080" stroke-width="1"/>
<line x1="631.68" y1="515.5" x2="631.68" y2="515.5" stroke="#e48080" stroke-width="1"/>
<line x1="632.59" y1="515.5" x2="632.59" y2="515.5" stroke="#e48080" stroke-width="1"/>
<line x1="633.50" y1="512.7" x2="633.50" y2="515.5" stroke="#e48080" stroke-width="1"/>
<line x1="634.41" y1="512.7" x2="634.41" y2="515.5" stroke="#e48080" stroke-width="1"/>
<line x1="635.32" y1="514.2" x2="635.32" y2="515.5" stroke="#e48080" stroke-width="1"/>
<line x1="636.23" y1="512.5" x2="636.23" y2="515.5" stroke="#e48080" stroke-width="1"/>
<line x1="637.14" y1="514.8" x2="637.14" y2="515.5" stroke="#e48080" stroke-width="1"/>
<line x1="638.05" y1="514.5" x2="638.05" y2="515.5" stroke="#e48080" stroke-width="1"/>
<line x1="638.96" y1="514.7" x2="638.96" y2="515.5" stroke="#e48080" stroke-width="1"/>
<line x1="639.87" y1="514.6" x2="639.87" y2="515.5" stroke="#e48080" stroke-width="1"/>
<line x1="640.78" y1="514.3" x2="640.78" y2="515.5" stroke="#e48080" stroke-width="1"/>
<line x1="641.69" y1="515.5" x2="641.69" y2="515.5" stroke="#e48080" stroke-width="1"/>
<line x1="642.60" y1="513.7" x2="642.60" y2="515.5" stroke="#e48080" stroke-width="1"/>
<line x1="643.51" y1="514.2" x2="643.51" y2="515.5" stroke="#e48080" stroke-width="1"/>
<line x1="644.42" y1="514.5" x2="644.42" y2="515.5" stroke="#e48080" stroke-width="1"/>
<line x1="645.33" y1="513.1" x2="645.33" y2="515.5" stroke="#e48080" stroke-width="1"/>
<line x1="646.24" y1="514.7" x2="646.24" y2="515.5" stroke="#e48080" stroke-width="1"/>
<line x1="647.15" y1="512.5" x2="647.15" y2="515.5" stroke="#e48080" stroke-width="1"/>
<line x1="648.06" y1="512.8" x2="648.06" y2="515.5" stroke="#e48080" stroke-width="1"/>
<line x1="648.97" y1="513.8" x2="648.97" y2="515.5" stroke="#e48080" stroke-width="1"/>
<line x1="649.88" y1="515.5" x2="649.88" y2="515.5" stroke="#e48080" stroke-width="1"/>
<line x1="650.79" y1="513.7" x2="650.79" y2="515.5" stroke="#e48080" stroke-width="1"/>
<line x1="651.70" y1="515.5" x2="651.70" y2="515.5" stroke="#e48080" stroke-width="1"/>
<line x1="652.61" y1="515.5" x2="652.61" y2="515.5" stroke="#e48080" stroke-width="1"/>
<line x1="653.52" y1="512.8" x2="653.52" y2="515.5" stroke="#e48080" stroke-width="1"/>
<line x1="654.43" y1="515.5" x2="654.43" y2="515.5" stroke="#e48080" stroke-width="1"/>
<line x1="655.34" y1="515.5" x2="655.34" y2="515.5" stroke="#e48080" stroke-width="1"/>
<line x1="656.25" y1="514.2" x2="656.25" y2="515.5" stroke="#e48080" stroke-width="1"/>
<line x1="657.16" y1="514.8" x2="657.16" y2="515.5" stroke="#e48080" stroke-width="1"/>
<line x1="658.07" y1="513.1" x2="658.07" y2="515.5" stroke="#e48080" stroke-width="1"/>
<line x1="658.98" y1="514.7" x2="658.98" y2="515.5" stroke="#e48080" stroke-width="1"/>
<line x1="659.89" y1="512.8" x2="659.89" y2="515.5" stroke="#e48080" stroke-width="1"/>
<line x1="660.80" y1="515.5" x2="660.80" y2="515.5" stroke="#e48080" stroke-width="1"/>
<line x1="661.71" y1="515.5" x2="661.71" y2="515.5" stroke="#e48080" stroke-width="1"/>
<line x1="662.62" y1="514.5" x2="662.62" y2="515.5" stroke="#e48080" stroke-width="1"/>
<line x1="663.53" y1="513.9" x2="663.53" y2="515.5" stroke="#e48080" stroke-width="1"/>
<line x1="664.44" y1="513.9" x2="664.44" y2="515.5" stroke="#e48080" stroke-width="1"/>
<line x1="665.35" y1="512.4" x2="665.35" y2="515.5" stroke="#e48080" stroke-width="1"/>
<line x1="666.26" y1="515.5" x2="666.26" y2="515.5" stroke="#e48080" stroke-width="1"/>
<line x1="667.17" y1="514.5" x2="667.17" y2="515.5" stroke="#e48080" stroke-width="1"/>
<line x1="668.08" y1="515.5" x2="668.08" y2="515.5" stroke="#e48080" stroke-width="1"/>
<line x1="668.99" y1="514.2" x2="668.99" y2="515.5" stroke="#e48080" stroke-width="1"/>
<line x1="669.90" y1="514.1" x2="669.90" y2="515.5" stroke="#e48080" stroke-width="1"/>
<line x1="670.81" y1="513.7" x2="670.81" y2="515.5" stroke="#e48080" stroke-width="1"/>
<line x1="671.72" y1="513.7" x2="671.72" y2="515.5" stroke="#e48080" stroke-width="1"/>
<line x1="672.63" y1="514.4" x2="672.63" y2="515.5" stroke="#e48080" stroke-width="1"/>
<line x1="673.54" y1="514.0" x2="673.54" y2="515.5" stroke="#e48080" stroke-width="1"/>
<line x1="674.45" y1="515.1" x2="674.45" y2="515.5" stroke="#e48080" stroke-width="1"/>
<line x1="675.36" y1="514.5" x2="675.36" y2="515.5" stroke="#e48080" stroke-width="1"/>
<line x1="676.27" y1="513.7" x2="676.27" y2="515.5" stroke="#e48080" stroke-width="1"/>
<line x1="677.18" y1="515.5" x2="677.18" y2="515.5" stroke="#e48080" stroke-width="1"/>
<line x1="678.09" y1="515.5" x2="678.09" y2="515.5" stroke="#e48080" stroke-width="1"/>
<line x1="679.00" y1="515.5" x2="679.00" y2="515.5" stroke="#e48080" stroke-width="1"/>
<line x1="679.91" y1="515.5" x2="679.91" y2="515.5" stroke="#e48080" stroke-width="1"/>
<line x1="680.82" y1="514.3" x2="680.82" y2="515.5" stroke="#e48080" stroke-width="1"/>
<line x1="681.73" y1="515.5" x2="681.73" y2="515.5" stroke="#e48080" stroke-width="1"/>
<line x1="682.64" y1="513.1" x2="682.64" y2="515.5" stroke="#e48080" stroke-width="1"/>
<line x1="683.55" y1="515.5" x2="683.55" y2="515.5" stroke="#e48080" stroke-width="1"/>
<line x1="684.46" y1="512.8" x2="684.46" y2="515.5" stroke="#e48080" stroke-width="1"/>
<line x1="685.37" y1="515.5" x2="685.37" y2="515.5" stroke="#e48080" stroke-width="1"/>
<line x1="686.28" y1="515.5" x2="686.28" y2="515.5" stroke="#e48080" stroke-width="1"/>
<line x1="687.19" y1="515.5" x2="687.19" y2="515.5" stroke="#e48080" stroke-width="1"/>
<line x1="688.10" y1="515.5" x2="688.10" y2="515.5" stroke="#e48080" stroke-width="1"/>
<line x1="689.01" y1="513.7" x2="689.01" y2="515.5" stroke="#e48080" stroke-width="1"/>
<line x1="689.92" y1="512.8" x2="689.92" y2="515.5" stroke="#e48080" stroke-width="1"/>
<line x1="690.83" y1="515.5" x2="690.83" y2="515.5" stroke="#e48080" stroke-width="1"/>
<line x1="691.74" y1="515.5" x2="691.74" y2="515.5" stroke="#e48080" stroke-width="1"/>
<line x1="692.65" y1="512.6" x2="692.65" y2="515.5" stroke="#e48080" stroke-width="1"/>
<line x1="693.56" y1="515.5" x2="693.56" y2="515.5" stroke="#e48080" stroke-width="1"/>
<line x1="694.47" y1="515.5" x2="694.47" y2="515.5" stroke="#e48080" stroke-width="1"/>
<line x1="695.38" y1="515.1" x2="695.38" y2="515.5" stroke="#e48080" stroke-width="1"/>
<line x1="696.29" y1="514.2" x2="696.29" y2="515.5" stroke="#e48080" stroke-width="1"/>
<line x1="697.20" y1="512.8" x2="697.20" y2="515.5" stroke="#e48080" stroke-width="1"/>
<line x1="698.11" y1="513.4" x2="698.11" y2="515.5" stroke="#e48080" stroke-width="1"/>
<line x1="699.02" y1="515.5" x2="699.02" y2="515.5" stroke="#e48080" stroke-width="1"/>
<line x1="699.93" y1="515.5" x2="699.93" y2="515.5" stroke="#e48080" stroke-width="1"/>
<line x1="700.84" y1="515.2" x2="700.84" y2="515.5" stroke="#e48080" stroke-width="1"/>
<line x1="701.75" y1="515.5" x2="701.75" y2="515.5" stroke="#e48080" stroke-width="1"/>
<line x1="702.66" y1="515.5" x2="702.66" y2="515.5" stroke="#e48080" stroke-width="1"/>
<line x1="703.57" y1="513.6" x2="703.57" y2="515.5" stroke="#e48080" stroke-width="1"/>
<line x1="704.48" y1="515.5" x2="704.48" y2="515.5" stroke="#e48080" stroke-width="1"/>
<line x1="705.39" y1="513.1" x2="705.39" y2="515.5" stroke="#e48080" stroke-width="1"/>
<line x1="706.30" y1="515.0" x2="706.30" y2="515.5" stroke="#e48080" stroke-width="1"/>
<line x1="707.21" y1="513.1" x2="707.21" y2="515.5" stroke="#e48080" stroke-width="1"/>
<line x1="708.12" y1="513.1" x2="708.12" y2="515.5" stroke="#e48080" stroke-width="1"/>
<line x1="709.03" y1="515.5" x2="709.03" y2="515.5" stroke="#e48080" stroke-width="1"/>
<line x1="709.94" y1="514.1" x2="709.94" y2="515.5" stroke="#e48080" stroke-width="1"/>
<line x1="710.85" y1="513.2" x2="710.85" y2="515.5" stroke="#e48080" stroke-width="1"/>
<line x1="711.76" y1="515.5" x2="711.76" y2="515.5" stroke="#e48080" stroke-width="1"/>
<line x1="712.67" y1="515.5" x2="712.67" y2="515.5" stroke="#e48080" stroke-width="1"/>
<line x1="713.58" y1="515.5" x2="713.58" y2="515.5" stroke="#e48080" stroke-width="1"/>
<line x1="714.49" y1="514.8" x2="714.49" y2="515.5" stroke="#e48080" stroke-width="1"/>
<line x1="715.40" y1="513.0" x2="715.40" y2="515.5" stroke="#e48080" stroke-width="1"/>
<line x1="716.31" y1="513.6" x2="716.31" y2="515.5" stroke="#e48080" stroke-width="1"/>
<line x1="717.22" y1="515.0" x2="717.22" y2="515.5" stroke="#e48080" stroke-width="1"/>
<line x1="718.13" y1="513.3" x2="718.13" y2="515.5" stroke="#e48080" stroke-width="1"/>
<line x1="719.04" y1="515.5" x2="719.04" y2="515.5" stroke="#e48080" stroke-width="1"/>
<line x1="719.95" y1="515.5" x2="719.95" y2="515.5" stroke="#e48080" stroke-width="1"/>
<line x1="720.86" y1="513.7" x2="720.86" y2="515.5" stroke="#e48080" stroke-width="1"/>
<line x1="721.77" y1="513.8" x2="721.77" y2="515.5" stroke="#e48080" stroke-width="1"/>
<line x1="722.68" y1="512.6" x2="722.68" y2="515.5" stroke="#e48080" stroke-width="1"/>
<line x1="723.59" y1="512.4" x2="723.59" y2="515.5" stroke="#e48080" stroke-width="1"/>
<line x1="724.50" y1="515.5" x2="724.50" y2="515.5" stroke="#e48080" stroke-width="1"/>
<line x1="725.41" y1="513.9" x2="725.41" y2="515.5" stroke="#e48080" stroke-width="1"/>
<line x1="726.32" y1="515.5" x2="726.32" y2="515.5" stroke="#e48080" stroke-width="1"/>
<line x1="727.23" y1="515.5" x2="727.23" y2="515.5" stroke="#e48080" stroke-width="1"/>
<line x1="728.14" y1="514.4" x2="728.14" y2="515.5" stroke="#e48080" stroke-width="1"/>
<line x1="729.05" y1="512.5" x2="729.05" y2="515.5" stroke="#e48080" stroke-width="1"/>
<line x1="729.96" y1="513.5" x2="729.96" y2="515.5" stroke="#e48080" stroke-width="1"/>
<line x1="730.87" y1="513.7" x2="730.87" y2="515.5" stroke="#e48080" stroke-width="1"/>
<line x1="731.78" y1="515.5" x2="731.78" y2="515.5" stroke="#e48080" stroke-width="1"/>
<line x1="732.69" y1="512.8" x2="732.69" y2="515.5" stroke="#e48080" stroke-width="1"/>
<line x1="733.60" y1="512.6" x2="733.60" y2="515.5" stroke="#e48080" stroke-width="1"/>
<line x1="734.51" y1="515.5" x2="734.51" y2="515.5" stroke="#e48080" stroke-width="1"/>
<line x1="735.42" y1="512.6" x2="735.42" y2="515.5" stroke="#e48080" stroke-width="1"/>
<line x1="736.33" y1="515.1" x2="736.33" y2="515.5" stroke="#e48080" stroke-width="1"/>
<line x1="737.24" y1="513.8" x2="737.24" y2="515.5" stroke="#e48080" stroke-width="1"/>
<line x1="738.15" y1="515.5" x2="738.15" y2="515.5" stroke="#e48080" stroke-width="1"/>
<line x1="739.06" y1="514.8" x2="739.06" y2="515.5" stroke="#e48080" stroke-width="1"/>
<line x1="739.97" y1="514.3" x2="739.97" y2="515.5" stroke="#e48080" stroke-width="1"/>
<line x1="740.88" y1="515.5" x2="740.88" y2="515.5" stroke="#e48080" stroke-width="1"/>
<line x1="741.79" y1="513.0" x2="741.79" y2="515.5" stroke="#e48080" stroke-width="1"/>
<line x1="742.70" y1="515.5" x2="742.70" y2="515.5" stroke="#e48080" stroke-width="1"/>
<line x1="743.61" y1="512.5" x2="743.61" y2="515.5" stroke="#e48080" stroke-width="1"/>
<line x1="744.52" y1="515.5" x2="744.52" y2="515.5" stroke="#e48080" stroke-width="1"/>
<line x1="745.43" y1="515.5" x2="745.43" y2="515.5" stroke="#e48080" stroke-width="1"/>
<line x1="746.34" y1="514.1" x2="746.34" y2="515.5" stroke="#e48080" stroke-width="1"/>
<line x1="747.25" y1="515.5" x2="747.25" y2="515.5" stroke="#e48080" stroke-width="1"/>
<line x1="748.16" y1="515.5" x2="748.16" y2="515.5" stroke="#e48080" stroke-width="1"/>
<line x1="749.07" y1="515.5" x2="749.07" y2="515.5" stroke="#e48080" stroke-width="1"/>
<line x1="749.98" y1="515.5" x2="749.98" y2="515.5" stroke="#e48080" stroke-width="1"/>
<line x1="750.89" y1="515.5" x2="750.89" y2="515.5" stroke="#e48080" stroke-width="1"/>
<line x1="751.80" y1="515.1" x2="751.80" y2="515.5" stroke="#e48080" stroke-width="1"/>
<line x1="752.71" y1="512.8" x2="752.71" y2="515.5" stroke="#e48080" stroke-width="1"/>
<line x1="753.62" y1="512.5" x2="753.62" y2="515.5" stroke="#e48080" stroke-width="1"/>
<line x1="754.53" y1="514.4" x2="754.53" y2="515.5" stroke="#e48080" stroke-width="1"/>
<line x1="755.44" y1="515.5" x2="755.44" y2="515.5" stroke="#e48080" stroke-width="1"/>
<line x1="756.35" y1="514.1" x2="756.35" y2="515.5" stroke="#e48080" stroke-width="1"/>
<line x1="757.26" y1="515.5" x2="757.26" y2="515.5" stroke="#e48080" stroke-width="1"/>
<line x1="758.17" y1="515.5" x2="758.17" y2="515.5" stroke="#e48080" stroke-width="1"/>
<line x1="759.08" y1="515.5" x2="759.08" y2="515.5" stroke="#e48080" stroke-width="1"/>
<line x1="759.99" y1="515.5" x2="759.99" y2="515.5" stroke="#e48080" stroke-width="1"/>
<line x1="760.90" y1="515.5" x2="760.90" y2="515.5" stroke="#e48080" stroke-width="1"/>
<line x1="761.81" y1="515.5" x2="761.81" y2="515.5" stroke="#e48080" stroke-width="1"/>
<line x1="762.72" y1="515.5" x2="762.72" y2="515.5" stroke="#e48080" stroke-width="1"/>
<line x1="763.63" y1="515.5" x2="763.63" y2="515.5" stroke="#e48080" stroke-width="1"/>
<line x1="764.54" y1="513.1" x2="764.54" y2="515.5" stroke="#e48080" stroke-width="1"/>
<line x1="765.45" y1="515.5" x2="765.45" y2="515.5" stroke="#e48080" stroke-width="1"/>
<line x1="766.36" y1="515.5" x2="766.36" y2="515.5" stroke="#e48080" stroke-width="1"/>
<line x1="767.27" y1="515.5" x2="767.27" y2="515.5" stroke="#e48080" stroke-width="1"/>
<line x1="768.18" y1="515.1" x2="768.18" y2="515.5" stroke="#e48080" stroke-width="1"/>
<line x1="769.09" y1="515.5" x2="769.09" y2="515.5" stroke="#e48080" stroke-width="1"/>
<line x1="770.00" y1="513.8" x2="770.00" y2="515.5" stroke="#e48080" stroke-width="1"/>
<line x1="770.91" y1="514.3" x2="770.91" y2="515.5" stroke="#e48080" stroke-width="1"/>
<text x="509.7" y="461.5" style="font-family:'Liberation Sans',sans-serif;font-size:7.5px;fill:#4a4a4a">28</text>
<text x="515" y="491" style="font-family:'Liberation Sans',sans-serif;font-size:7.5px;fill:#4a4a4a">39</text>
<line x1="523.9" y1="495.6" x2="520" y2="492" stroke="#4a4a4a" stroke-width="0.6"/>
<text x="529.3" y="480.4" style="font-family:'Liberation Sans',sans-serif;font-size:7.5px;fill:#4a4a4a">44</text>
<line x1="528.1" y1="485.2" x2="531" y2="481.5" stroke="#4a4a4a" stroke-width="0.6"/>
<text x="534.7" y="458.75" style="font-family:'Liberation Sans',sans-serif;font-size:7.5px;fill:#4a4a4a">56</text>
<text x="541.5" y="489.4" style="font-family:'Liberation Sans',sans-serif;font-size:7.5px;fill:#4a4a4a">58</text>
<line x1="540.2" y1="493.1" x2="543" y2="490" stroke="#4a4a4a" stroke-width="0.6"/>
<text x="541.6" y="505" style="font-family:'Liberation Sans',sans-serif;font-size:7.5px;fill:#4a4a4a">68</text>
<line x1="551.2" y1="510.75" x2="546.3" y2="505.3" stroke="#4a4a4a" stroke-width="0.6"/>
<text x="517" y="269.5" style="font-family:'Liberation Sans',sans-serif;font-size:7.5px;fill:#4a4a4a">42</text>
<line x1="526.6" y1="273.8" x2="524" y2="270" stroke="#4a4a4a" stroke-width="0.6"/>
<text x="543" y="395.6" style="font-family:'Liberation Sans',sans-serif;font-size:7.5px;fill:#4a4a4a">70</text>
<line x1="552.4" y1="399.8" x2="547.2" y2="396.7" stroke="#4a4a4a" stroke-width="0.6"/>
<text x="554.7" y="480.4" style="font-family:'Liberation Sans',sans-serif;font-size:7.5px;fill:#4a4a4a">72</text>
<line x1="553.5" y1="484.6" x2="556" y2="481" stroke="#4a4a4a" stroke-width="0.6"/>
<text x="558.75" y="500.4" style="font-family:'Liberation Sans',sans-serif;font-size:7.5px;fill:#4a4a4a">82</text>
<text x="569" y="499.7" style="font-family:'Liberation Sans',sans-serif;font-size:7.5px;fill:#4a4a4a">94</text>
<text x="581" y="502.5" style="font-family:'Liberation Sans',sans-serif;font-size:7.5px;fill:#4a4a4a">108</text>
<text x="592.8" y="492.8" style="font-family:'Liberation Sans',sans-serif;font-size:7.5px;fill:#4a4a4a">121</text>
<text x="610.4" y="497.6" style="font-family:'Liberation Sans',sans-serif;font-size:7.5px;fill:#4a4a4a">147</text>
<line x1="622.2" y1="502.5" x2="618" y2="498.5" stroke="#4a4a4a" stroke-width="0.6"/>
<text x="617.4" y="488.6" style="font-family:'Liberation Sans',sans-serif;font-size:7.5px;fill:#4a4a4a">148</text>
<text x="626.4" y="478.2" style="font-family:'Liberation Sans',sans-serif;font-size:7.5px;fill:#4a4a4a">159</text>
<text x="643" y="499.7" style="font-family:'Liberation Sans',sans-serif;font-size:7.5px;fill:#4a4a4a">176</text>
<text x="656.25" y="504" style="font-family:'Liberation Sans',sans-serif;font-size:7.5px;fill:#4a4a4a">191</text>
<text x="666.7" y="494.9" style="font-family:'Liberation Sans',sans-serif;font-size:7.5px;fill:#4a4a4a">203</text>
<text x="679.1" y="505.5" style="font-family:'Liberation Sans',sans-serif;font-size:7.5px;fill:#4a4a4a">217</text>
<text x="685.8" y="451" style="font-family:'Liberation Sans',sans-serif;font-size:7.5px;fill:#4a4a4a">231</text>
<line x1="699.2" y1="454.9" x2="695" y2="451.5" stroke="#4a4a4a" stroke-width="0.6"/>
<text x="692.5" y="440.6" style="font-family:'Liberation Sans',sans-serif;font-size:7.5px;fill:#4a4a4a">232</text>
<text x="706.8" y="426.2" style="font-family:'Liberation Sans',sans-serif;font-size:7.5px;fill:#4a4a4a">247</text>
<text x="719.2" y="475" style="font-family:'Liberation Sans',sans-serif;font-size:7.5px;fill:#4a4a4a">254</text>
<line x1="718.8" y1="479.7" x2="723" y2="475.5" stroke="#4a4a4a" stroke-width="0.6"/>
<text x="725.9" y="497.9" style="font-family:'Liberation Sans',sans-serif;font-size:7.5px;fill:#4a4a4a">261</text>
<line x1="725.3" y1="503.6" x2="730" y2="498.5" stroke="#4a4a4a" stroke-width="0.6"/>
<text x="756.4" y="504.7" style="font-family:'Liberation Sans',sans-serif;font-size:7.5px;fill:#4a4a4a">302</text>
<text x="763.1" y="494.4" style="font-family:'Liberation Sans',sans-serif;font-size:7.5px;fill:#4a4a4a">316</text>
<line x1="775.9" y1="499.8" x2="771" y2="495.6" stroke="#4a4a4a" stroke-width="0.6"/>
<line x1="782.6" y1="485.3" x2="777.7" y2="488.9" stroke="#555" stroke-width="0.7"/>
<line x1="783.2" y1="508.1" x2="778.3" y2="512" stroke="#555" stroke-width="0.7"/>
<text transform="translate(24.09,22.70) scale(1,0.933)" style="font-family:'Liberation Serif',serif;font-weight:bold;font-size:18.84px;fill:#000">100</text>
<text transform="translate(32.46,267.86) scale(1,0.925)" style="font-family:'Liberation Serif',serif;font-weight:bold;font-size:18.40px;fill:#000">%</text>
<text transform="translate(39.25,519.30) scale(1,0.875)" style="font-family:'Liberation Serif',serif;font-weight:bold;font-size:18.81px;fill:#000">0</text>
<text transform="translate(79.32,533.80) scale(1,0.888)" style="font-family:'Liberation Serif',serif;font-weight:bold;font-size:19.40px;fill:#000">6.50</text>
<text transform="translate(148.54,533.60) scale(1,0.838)" style="font-family:'Liberation Serif',serif;font-weight:bold;font-size:19.52px;fill:#000">11.50</text>
<text transform="translate(222.58,533.60) scale(1,0.858)" style="font-family:'Liberation Serif',serif;font-weight:bold;font-size:19.06px;fill:#000">16.50</text>
<text transform="translate(300.61,533.60) scale(1,0.826)" style="font-family:'Liberation Serif',serif;font-weight:bold;font-size:19.82px;fill:#000">21.50</text>
<text transform="translate(375.53,533.60) scale(1,0.863)" style="font-family:'Liberation Serif',serif;font-weight:bold;font-size:19.26px;fill:#000">26.50</text>
<text transform="translate(20.90,278.72) rotate(-90) scale(1,1.061)" style="font-family:'Liberation Serif',serif;font-weight:bold;font-size:22.27px;fill:#000">AU</text>
<text transform="translate(53.43,566.70) scale(1,1.067)" style="font-family:'Liberation Serif',serif;font-weight:bold;font-size:23.50px;fill:#000">Time (min)</text>
<text transform="translate(201.63,66.20) scale(1,0.880)" style="font-family:'Liberation Serif',serif;font-weight:bold;font-size:18.28px;fill:#000">R<tspan dy="0.2em" style="font-size:0.62em">t</tspan><tspan dy="-0.124em">: 22.93 min</tspan></text>
<text transform="translate(201.81,87.90) scale(1,0.866)" style="font-family:'Liberation Serif',serif;font-weight:bold;font-size:18.89px;fill:#000">Area%=86.41</text>
<text transform="translate(474.03,22.40) scale(1,0.856)" style="font-family:'Liberation Serif',serif;font-weight:bold;font-size:18.41px;fill:#000">100</text>
<text transform="translate(482.65,268.86) scale(1,0.927)" style="font-family:'Liberation Serif',serif;font-weight:bold;font-size:18.52px;fill:#000">%</text>
<text transform="translate(494.57,519.20) scale(1,0.920)" style="font-family:'Liberation Serif',serif;font-weight:bold;font-size:15.71px;fill:#000">0</text>
<text transform="translate(537.03,533.50) scale(1,0.862)" style="font-family:'Liberation Serif',serif;font-weight:bold;font-size:18.92px;fill:#000">60</text>
<text transform="translate(578.96,533.50) scale(1,0.834)" style="font-family:'Liberation Serif',serif;font-weight:bold;font-size:19.25px;fill:#000">110</text>
<text transform="translate(624.66,533.50) scale(1,0.833)" style="font-family:'Liberation Serif',serif;font-weight:bold;font-size:19.28px;fill:#000">160</text>
<text transform="translate(671.12,533.50) scale(1,0.826)" style="font-family:'Liberation Serif',serif;font-weight:bold;font-size:19.44px;fill:#000">210</text>
<text transform="translate(712.31,533.50) scale(1,0.827)" style="font-family:'Liberation Serif',serif;font-weight:bold;font-size:19.72px;fill:#000">260</text>
<text transform="translate(758.55,533.50) scale(1,0.854)" style="font-family:'Liberation Serif',serif;font-weight:bold;font-size:18.80px;fill:#000">310</text>
<text transform="translate(805.51,533.50) scale(1,0.830)" style="font-family:'Liberation Serif',serif;font-weight:bold;font-size:19.65px;fill:#000">360</text>
<text transform="translate(472.60,306.76) rotate(-90) scale(1,1.037)" style="font-family:'Liberation Serif',serif;font-weight:bold;font-size:23.29px;fill:#000">Counts</text>
<text transform="translate(556.83,567.50) scale(1,0.978)" style="font-family:'Liberation Serif',serif;font-weight:bold;font-size:23.71px;fill:#000">Mass-to-Charge <tspan style="font-style:italic">(m/z)</tspan></text>
<text transform="translate(568.43,173.50) scale(1,0.995)" style="font-family:'Liberation Serif',serif;font-weight:bold;font-size:23.70px;fill:#000">Biofield Energy Treated</text>
<text transform="translate(518.51,14.40) scale(1,0.938)" style="font-family:'Liberation Serif',serif;font-weight:bold;font-size:18.54px;fill:#000">43</text>
<text transform="translate(546.21,222.30) scale(1,0.949)" style="font-family:'Liberation Serif',serif;font-weight:bold;font-size:18.20px;fill:#000">71</text>
<text transform="translate(762.52,366.80) scale(1,0.912)" style="font-family:'Liberation Serif',serif;font-weight:bold;font-size:19.44px;fill:#000">317</text>
<text transform="translate(779.19,483.30) scale(1,0.813)" style="font-family:'Liberation Serif',serif;font-weight:bold;font-size:20.14px;fill:#000">318</text>
<text transform="translate(780.41,504.70) scale(1,0.791)" style="font-family:'Liberation Serif',serif;font-weight:bold;font-size:19.72px;fill:#000">319</text></svg></body></html>
